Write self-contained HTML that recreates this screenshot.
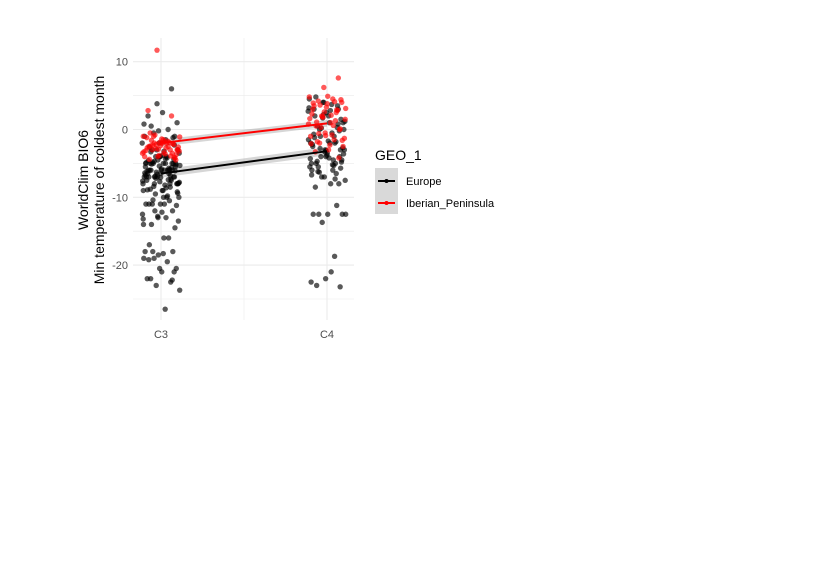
<!DOCTYPE html>
<html><head><meta charset="utf-8">
<style>
html,body{margin:0;padding:0;background:#fff;}
svg{display:block;font-family:"Liberation Sans",Arial,sans-serif;}
</style></head>
<body>
<svg id="chart" width="817" height="586" viewBox="0 0 817 586">
  <rect width="817" height="586" fill="#fff"/>
  <g id="grid"></g>
  <g id="ribbons"></g>
  <g id="points"></g>
  <g id="lines"></g>
  <g id="axes"></g>
  <text x="88" y="180" font-size="14" text-anchor="middle" transform="rotate(-90 88 180)">WorldClim BIO6</text>
  <text x="104" y="180" font-size="14" text-anchor="middle" transform="rotate(-90 104 180)">Min temperature of coldest month</text>
  <g>
    <text x="375" y="160" font-size="14">GEO_1</text>
    <rect x="375" y="168" width="23" height="46" fill="#d9d9d9"/>
    <g>
      <line x1="378" y1="181" x2="395" y2="181" stroke="#000" stroke-width="2"/>
      <circle cx="386.5" cy="181" r="2" fill="#000"/>
      <text x="406" y="185" font-size="11">Europe</text>
    </g>
    <g>
      <line x1="378" y1="203" x2="395" y2="203" stroke="#ff0000" stroke-width="2"/>
      <circle cx="386.5" cy="203" r="2" fill="#ff0000"/>
      <text x="406" y="207" font-size="11">Iberian_Peninsula</text>
    </g>
  </g>
</svg>
<script>
const categories = ["C3","C4"];
const yTicks = [10,0,-10,-20];
const yMinor = [5,-5,-15,-25];
const europeC3 = [-5,-6,-7,-4,-5.5,-6.5,-8,-3,-5,-7,-6,-4.5,-9,-10,-11,-5,-6,-7.5,-8.5,-4,-3.5,-6,-5,-7,-2,-1,0,-0.5,1,2.5,2,6,3.8,-12.5,-13,-14,-14.5,-11,-11,-10.5,-12,-13.5,-16,-17,-18,-18.5,-19,-19.5,-18,-20.5,-21,-22,-22.5,-23,-23.7,-26.5,-22,-21,-20.5,-18,-16,-19,-8,-9,-6,-5,-7,-8,-4,-3,-5.5,-6.5,-7,-8,-9.5,-10,-11,-6,-5,-4,-7,-6,-5,-8,-9,-6.5,-7.5,-3,-2,-1.5,0.5,-1,-4,-5,-6,-7,-8,-10,-11,-12,-13,-14,
  -4.2,-4.8,-5.2,-5.8,-6.2,-6.8,-7.2,-7.8,-8.2,-8.8,-4.4,-5.4,-6.4,-7.4,-8.4,-9.2,-3.8,-4.6,-5.6,-6.6,-7.6,-8.6,-5.1,-6.1,-7.1,-4.9,-5.9,-6.9,-7.9,-3.2,-2.6,-1.2,-0.2,0.8,-9.8,-10.4,-11.2,-12.2,-8.9,-7.3,-6.3,-5.3,-4.3,-3.3,-2.3,-7.7,-6.7,-5.7,-4.7,-9.4,-18.3,-19.2,-22.2,-12.8,-13.2];
const iberianC3 = [-2,-3,-1.5,-2.5,-3.5,-4,-1,-2,-3,-4.5,-2,-1.2,-3,-2.8,-3.2,-1.8,-0.5,-2.2,-3.8,-4,-2.5,-1,-3,-2,2.8,2,11.7,-3.5,-2.7,-1.6,-4.2,-2.4,-3.1,-1.9,-0.8,-2.6,-3.4,-4.4,
  -2.1,-2.9,-3.3,-1.7,-2.3,-3.7,-1.4,-2.7,-3.9,-2.2,-1.1,-3.6,-2.4,-4.1,-1.9];
const europeC4 = [-3,-4,-5,-2,-1,0,1,2,3,4,4.5,-6,-5.5,-4.5,-3.5,-2.5,-6.5,-7,-7.5,-8,-5,-4,-3,-2,-1,0,1,2,3,3.5,4,-1.5,-0.5,0.5,1.5,2.5,-6,-5,-4,-3,-2,-8.5,-8,-7,-5.5,-4.5,-12.5,-12.5,-12.5,-12.5,-11.2,-13.7,-12.5,-21,-23,-23.2,-22,-22.5,-18.7,-2.8,-3.6,-4.2,-1.2,0.8,2.2,3.2,-5.2,-6.2,-4.8,-3.8,-2.2,-1.8,0.2,1.2,2.8,4.8,-0.2,
  -3.3,-4.3,-5.3,-6.3,-2.7,-1.7,-0.7,0.3,1.7,2.7,3.7,-4.7,-5.7,-3.1,-6.7,-7.3];
const iberianC4 = [7.6,6.2,4.8,4.5,4.2,4,3.8,3,2.5,2,1.5,1,0.5,0,-0.5,-1,-1.5,-2,-2.5,-3,3.5,2.8,1.8,0.8,-0.8,-1.8,4.4,3.3,2.3,1.3,0.3,-1.3,-2.3,-3.3,-4.2,2.6,1.6,0.6,-0.6,-1.6,4.9,3.9,2.9,1.9,
  3.1,2.1,1.1,0.1,-0.9,-2.1,4.1,3.6];
const fitEurope = [-6.5,-3.2];
const fitIberian = [-2.0,0.9];

const NS="http://www.w3.org/2000/svg";
const PL=133, PR=354, PT=38, PB=320;
const xPos = c => c===0 ? 161 : 327;
const yScale = v => 129.5 - v*6.78;
function mk(tag, attrs, parent){const e=document.createElementNS(NS,tag);for(const k in attrs)e.setAttribute(k,attrs[k]);parent.appendChild(e);return e;}

const grid=document.getElementById('grid');
yMinor.forEach(v=>{const l=mk('line',{x1:PL,x2:PR,y1:yScale(v),y2:yScale(v),stroke:'#ebebeb','stroke-width':0.6},grid);

});
yTicks.forEach(v=>{const l=mk('line',{x1:PL,x2:PR,y1:yScale(v),y2:yScale(v),stroke:'#ebebeb','stroke-width':1.1},grid);

});
[0,1].forEach(c=>{const l=mk('line',{x1:xPos(c),x2:xPos(c),y1:PT,y2:PB,stroke:'#ebebeb','stroke-width':1.1},grid);

});
{const l=mk('line',{x1:244,x2:244,y1:PT,y2:PB,stroke:'#ebebeb','stroke-width':0.6},grid);

}

const axes=document.getElementById('axes');
yTicks.forEach(v=>{const t=mk('text',{x:128,y:yScale(v)+4,'font-size':11,'text-anchor':'end',fill:'#4d4d4d'},axes);t.textContent=v;

});
categories.forEach((c,i)=>{const t=mk('text',{x:xPos(i),y:338,'font-size':11,'text-anchor':'middle',fill:'#4d4d4d'},axes);t.textContent=c;

});

const pts=document.getElementById('points');
function drawPts(arr,cat,color,name,seed){
  arr.forEach((v,i)=>{
    const f=((i+seed)*0.6180339887)%1;
    const cx=xPos(cat)+(f-0.5)*38;
    const c=mk('circle',{cx:cx,cy:yScale(v),r:2.7,fill:color,'fill-opacity':0.65},pts);
    
    
  });
}
drawPts(europeC3,0,'#000','point-europe-c3',1);
drawPts(europeC4,1,'#000','point-europe-c4',3);
drawPts(iberianC3,0,'#ff0000','point-iberian-c3',7);
drawPts(iberianC4,1,'#ff0000','point-iberian-c4',11);

const rib=document.getElementById('ribbons'), lines=document.getElementById('lines');
function drawFit(fit,color,name,se){
  const r=mk('polygon',{points:`${xPos(0)},${yScale(fit[0]+se)} ${xPos(1)},${yScale(fit[1]+se)} ${xPos(1)},${yScale(fit[1]-se)} ${xPos(0)},${yScale(fit[0]-se)}`,fill:'#999','fill-opacity':0.4},rib);
  
  
  const l=mk('line',{x1:xPos(0),y1:yScale(fit[0]),x2:xPos(1),y2:yScale(fit[1]),stroke:color,'stroke-width':2},lines);
  
  
}
drawFit(fitEurope,'#000','europe-fit',0.6);
drawFit(fitIberian,'#ff0000','iberian-fit',0.5);
</script>
</body></html>
